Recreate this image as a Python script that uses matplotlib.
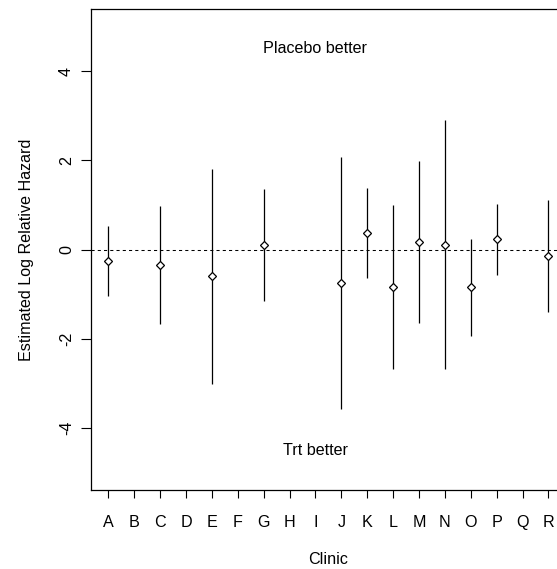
import numpy as np
import matplotlib
matplotlib.use("Agg")
import matplotlib.pyplot as plt

plt.rcParams['font.family'] = ['Liberation Sans', 'DejaVu Sans']

# all clinics on the axis
clinics = list("ABCDEFGHIJKLMNOPQR")
# clinics with an estimate, and their estimate / interval ends
shown = ["A", "C", "E", "G", "J", "K", "L", "M", "N", "O", "P", "R"]
est = [-0.25, -0.35, -0.60, 0.10, -0.755, 0.36, -0.84, 0.17, 0.11, -0.85, 0.23, -0.15]
lower = [-1.05, -1.66, -3.01, -1.16, -3.57, -0.65, -2.67, -1.64, -2.67, -1.95, -0.58, -1.41]
upper = [0.53, 0.975, 1.81, 1.35, 2.08, 1.37, 1.00, 1.98, 2.90, 0.23, 1.03, 1.10]

pos = [clinics.index(c) + 1 for c in shown]

fs = 11.6

fig = plt.figure(figsize=(5.57, 5.69), dpi=100)
ax = fig.add_axes([0.1628, 0.1383, 0.8535, 0.8464])

ax.vlines(pos, lower, upper, colors="black", linewidth=0.9)
ax.plot(pos, est, linestyle="none", marker="D", markersize=3.9,
        markerfacecolor="white", markeredgecolor="black", markeredgewidth=0.9)
ax.axhline(0, color="black", linewidth=0.75, linestyle=(0, (3, 3)))

ax.text(9, 4.5, "Placebo better", ha="center", va="center", fontsize=fs)
ax.text(9, -4.5, "Trt better", ha="center", va="center", fontsize=fs)

ax.set_xlim(0.32, 18.68)
ax.set_ylim(-5.4, 5.4)
ax.set_xticks(range(1, len(clinics) + 1))
ax.set_xticklabels(clinics)
ax.set_yticks([-4, -2, 0, 2, 4])
ax.set_yticklabels(["-4", "-2", "0", "2", "4"], rotation=90, va="center")
ax.tick_params(axis="x", length=5.5, width=0.8, pad=12, labelsize=fs)
ax.tick_params(axis="y", length=7, width=0.8, pad=5, labelsize=fs)
for s in ax.spines.values():
    s.set_linewidth(0.9)

ax.set_xlabel("Clinic", fontsize=fs, labelpad=16)
ax.set_ylabel("Estimated Log Relative Hazard", fontsize=fs, labelpad=18)

fig.savefig("out.png", dpi=100)
